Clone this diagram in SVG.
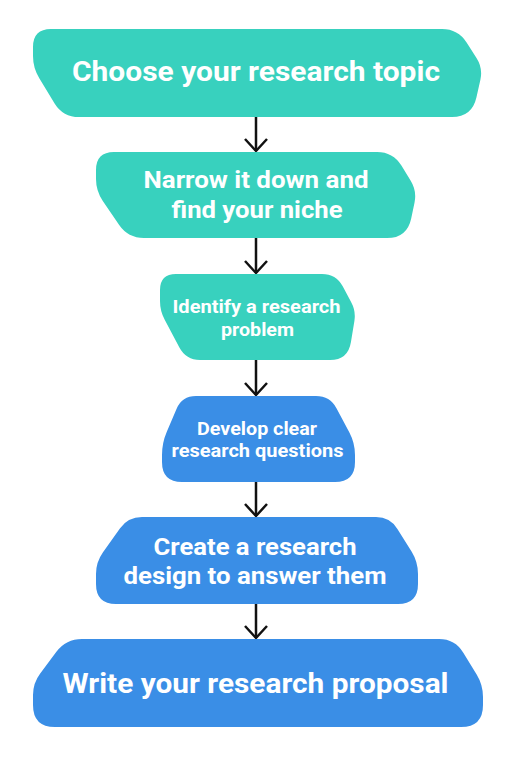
<svg xmlns="http://www.w3.org/2000/svg" width="516" height="758" viewBox="0 0 516 758">
<style>
.teal{fill:#38D1BE}
.blue{fill:#3A8EE6}
.t{font-family:Roboto,"Liberation Sans",sans-serif;font-weight:700;fill:#ffffff;text-anchor:middle}
.conn{stroke:#111111;stroke-width:2.5;fill:none}
</style>
<defs>
<marker id="ah" markerUnits="userSpaceOnUse" viewBox="-15 -13 17 26" refX="0" refY="0" markerWidth="17" markerHeight="26" orient="auto">
<path d="M-12,-11 L0,0 L-12,11" fill="none" stroke="#111111" stroke-width="2.5"/>
</marker>
</defs>
<rect width="516" height="758" fill="#ffffff"/>
<g id="connectors">
<path class="conn" d="M256,117 V151" marker-end="url(#ah)"/>
<path class="conn" d="M256,238 V273" marker-end="url(#ah)"/>
<path class="conn" d="M256,360 V395" marker-end="url(#ah)"/>
<path class="conn" d="M256,482 V516" marker-end="url(#ah)"/>
<path class="conn" d="M256,604 V638" marker-end="url(#ah)"/>
</g>
<g id="n1">
<path class="teal" d="M51,29 H442 Q458,29 466.6,42.5 L476.5,57.9 Q483,68 480.4,79.7 L476.4,97.5 Q472,117 452,117 H79 Q63,117 54.6,103.4 L39.3,78.2 Q33,68 33,56 V47 Q33,29 51,29Z"/>
<text class="t" x="256" y="81" font-size="27" textLength="368" lengthAdjust="spacingAndGlyphs">Choose your research topic</text>
</g>
<g id="n2">
<path class="teal" d="M114,152 H377 Q393,152 401.4,165.6 L410.7,180.8 Q417,191 414.5,202.7 L411.2,218.4 Q407,238 387,238 H144 Q128,238 119,224.8 L102.8,200.9 Q96,191 96,179 V170 Q96,152 114,152Z"/>
<text class="t" x="256" y="188" font-size="24" textLength="225" lengthAdjust="spacingAndGlyphs">Narrow it down and</text>
<text class="t" x="257" y="218" font-size="24" textLength="171" lengthAdjust="spacingAndGlyphs">find your niche</text>
</g>
<g id="n3">
<path class="teal" d="M176,274 H322 Q336,274 342.7,286.3 L351.2,302.2 Q356,311 354.4,320.9 L350.9,342.2 Q348,360 330,360 H200 Q186,360 179.4,347.6 L164.7,319.8 Q160,311 160,301 V290 Q160,274 176,274Z"/>
<text class="t" x="256.5" y="313" font-size="19" textLength="168" lengthAdjust="spacingAndGlyphs">Identify a research</text>
<text class="t" x="257.5" y="336" font-size="19" textLength="73" lengthAdjust="spacingAndGlyphs">problem</text>
</g>
<g id="n4">
<path class="blue" d="M196,396 H316 Q330,396 336.6,408.4 L349.4,432.4 Q355,443 355,455 V462 Q355,482 335,482 H182 Q162,482 162,462 V455 Q162,443 166.7,432 L176.5,408.9 Q182,396 196,396Z"/>
<text class="t" x="257" y="435" font-size="19" textLength="120" lengthAdjust="spacingAndGlyphs">Develop clear</text>
<text class="t" x="257.5" y="457" font-size="19" textLength="172" lengthAdjust="spacingAndGlyphs">research questions</text>
</g>
<g id="n5">
<path class="blue" d="M142,517 H376 Q390,517 397.4,528.9 L411.7,551.8 Q418,562 418,574 V584 Q418,604 398,604 H116 Q96,604 96,584 V574 Q96,562 103,552.2 L119.9,528.4 Q128,517 142,517Z"/>
<text class="t" x="255" y="555" font-size="24" textLength="203" lengthAdjust="spacingAndGlyphs">Create a research</text>
<text class="t" x="255" y="584" font-size="24" textLength="263" lengthAdjust="spacingAndGlyphs">design to answer them</text>
</g>
<g id="n6">
<path class="blue" d="M82,639 H439 Q455,639 463.3,652.7 L476.8,674.8 Q483,685 483,697 V705 Q483,727 461,727 H55 Q33,727 33,705 V695 Q33,683 40.2,673.4 L56.4,651.8 Q66,639 82,639Z"/>
<text class="t" x="255.5" y="693" font-size="28" textLength="386" lengthAdjust="spacingAndGlyphs">Write your research proposal</text>
</g>
</svg>
